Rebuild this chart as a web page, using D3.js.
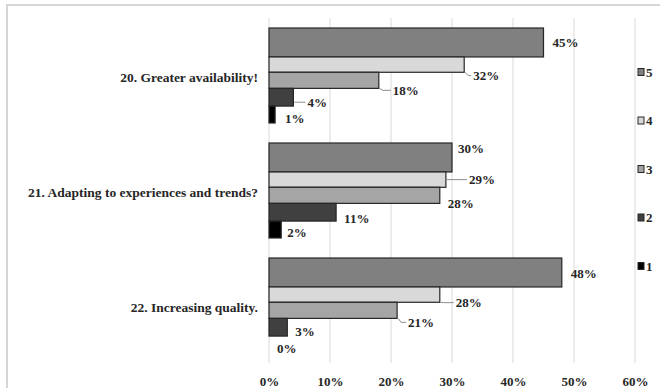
<!DOCTYPE html>
<html>
<head>
<meta charset="utf-8">
<script src="https://cdn.jsdelivr.net/npm/d3@7"></script>
<style>
  html, body { margin: 0; padding: 0; background: #fff; }
  svg { display: block; }
  text { font-family: "Liberation Serif", "Times New Roman", serif; font-weight: bold; fill: #262626; }
</style>
</head>
<body>
<svg id="chart" width="660" height="388"></svg>
<script>
// Survey questions, answer levels and the share of answers per level
const questions = ["20. Greater availability!", "21. Adapting to experiences and trends?", "22. Increasing quality."];
const levels = ["5", "4", "3", "2", "1"];
const level5 = [45, 30, 48];
const level4 = [32, 29, 28];
const level3 = [18, 28, 21];
const level2 = [4, 11, 3];
const level1 = [1, 2, 0];
const xTicks = [0, 10, 20, 30, 40, 50, 60];

const seriesValues = [level5, level4, level3, level2, level1];
const fills = ["#808080", "#d9d9d9", "#a5a5a5", "#404040", "#000000"];
// relative thickness of each level's bar inside a question group
const thickness = [1.8, 0.95, 1.0, 1.1, 1.05];
// label nudges (dx, dy) relative to the end/centre of each bar, per question and level
const labelNudge = [
  [[9, 0], [9, 11], [14, 10], [14, 5], [10, 4]],
  [[6, -9], [23, 0], [8, 8], [8, 6], [6, 3]],
  [[9, 1], [16, 8], [11, 12], [8, 4], [8, 4]]
];
const leaders = [
  [false, true, true, true, false],
  [false, true, false, false, false],
  [false, true, true, false, false]
];

const svg = d3.select("#chart");

// outer frame
svg.append("path")
  .attr("d", "M7,390 L7,5 L662,5")
  .attr("fill", "none").attr("stroke", "#d6d6d6").attr("stroke-width", 2);

const plot = { left: 269, right: 635, top: 18, bottom: 363 };
const x = d3.scaleLinear().domain([0, 60]).range([plot.left, plot.right]);
const yGroup = d3.scaleBand().domain(questions).range([28, 353]).paddingInner(0.174).paddingOuter(0);

// gridlines
svg.append("g").selectAll("line").data(xTicks).join("line")
  .attr("x1", d => x(d)).attr("x2", d => x(d))
  .attr("y1", plot.top).attr("y2", plot.bottom)
  .attr("stroke", "#d9d9d9").attr("stroke-width", 1);

// x axis tick labels
const xAxis = d3.axisBottom(x).tickValues(xTicks).tickFormat(d => d + "%").tickSize(0).tickPadding(0);
const gx = svg.append("g").attr("transform", `translate(0,${plot.bottom + 14})`).call(xAxis);
gx.select(".domain").remove();
gx.selectAll("text").attr("font-size", 13).attr("font-family", "Liberation Serif").attr("font-weight", "bold").attr("fill", "#262626");

// within-group positions from relative thickness
const totalT = d3.sum(thickness);
const offsets = d3.cumsum([0, ...thickness]);

const groups = svg.append("g").selectAll("g").data(questions).join("g")
  .attr("transform", d => `translate(0,${yGroup(d)})`);

const bw = yGroup.bandwidth();

groups.each(function(q, qi) {
  const g = d3.select(this);
  levels.forEach((lv, li) => {
    const v = seriesValues[li][qi];
    const y0 = offsets[li] / totalT * bw;
    const h = thickness[li] / totalT * bw;
    g.append("rect")
      .attr("x", x(0)).attr("y", y0)
      .attr("width", Math.max(0, x(v) - x(0))).attr("height", h)
      .attr("fill", fills[li])
      .attr("stroke", v > 0 ? "#262626" : "none").attr("stroke-width", 1.2);
    const [dx, dy] = labelNudge[qi][li];
    const lx = x(v) + dx, ly = y0 + h / 2 + dy;
    if (leaders[qi][li]) {
      g.append("polyline")
        .attr("points", `${x(v) + 1},${Math.min(y0 + h, ly)} ${x(v) + 4},${ly} ${lx - 2},${ly}`)
        .attr("fill", "none").attr("stroke", "#8c8c8c").attr("stroke-width", 1);
    }
    g.append("text")
      .attr("x", lx).attr("y", ly).attr("dy", "0.35em")
      .attr("font-size", 13)
      .text(v + "%");
  });
  g.append("text")
    .attr("x", 258).attr("y", bw / 2 + 2).attr("dy", "0.35em")
    .attr("text-anchor", "end").attr("font-size", 13.5)
    .text(q);
});

// legend
const legend = svg.append("g").selectAll("g").data(levels).join("g")
  .attr("transform", (d, i) => `translate(638,${72 + i * 48.5})`);
legend.append("rect")
  .attr("x", 0).attr("y", -3.5).attr("width", 6).attr("height", 7)
  .attr("fill", (d, i) => fills[i]).attr("stroke", "#262626").attr("stroke-width", 1);
legend.append("text")
  .attr("x", 8).attr("y", 0).attr("dy", "0.35em").attr("font-size", 13)
  .text(d => d);
</script>
</body>
</html>
